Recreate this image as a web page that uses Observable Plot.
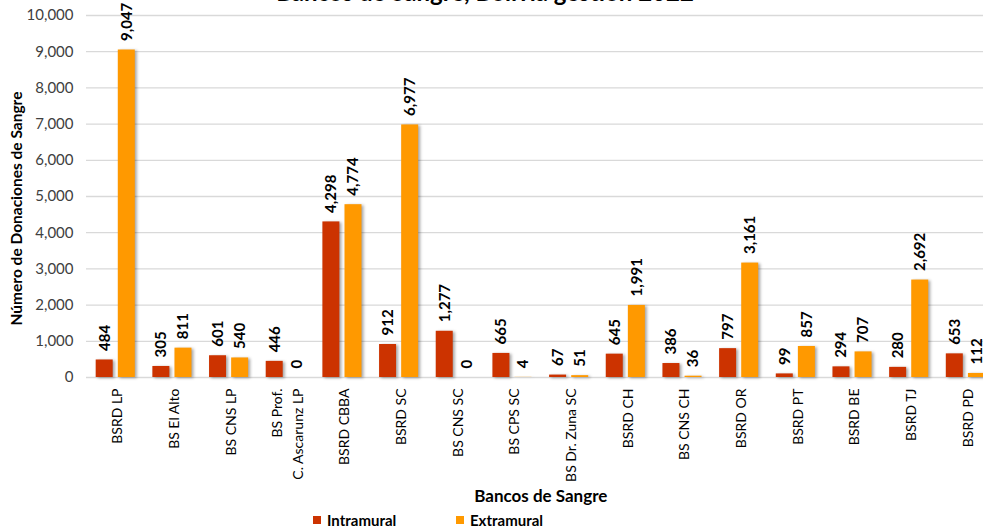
<!DOCTYPE html>
<html>
<head>
<meta charset="utf-8">
<script src="https://cdn.jsdelivr.net/npm/d3@7"></script>
<script src="https://cdn.jsdelivr.net/npm/@observablehq/plot@0.6"></script>
<style>
  html, body { margin: 0; padding: 0; background: #fff; overflow: hidden; width: 983px; height: 531px; }
  #wrap { position: relative; width: 983px; height: 531px; overflow: hidden; font-family: Lato, "Open Sans", sans-serif; }
  #title { position: absolute; top: -20px; left: 0; width: 970px; text-align: center; font-weight: bold; font-size: 24px; line-height: 24px; color: #000; white-space: nowrap; }
  #chart { position: absolute; top: 0; left: 0; width: 1000px; }
  #chart svg { max-width: none !important; }
  #legend { position: absolute; top: 511px; left: 0; width: 983px; height: 18px; font-size: 15px; font-weight: bold; color: #000; }
  .item { position: absolute; top: 0; display: flex; align-items: center; height: 18px; }
  .sw { width: 8px; height: 8px; margin-right: 6px; }
  g[aria-label="bar"] rect { filter: drop-shadow(2px 1px 1.5px rgba(0,0,0,0.35)); }
</style>
</head>
<body>
<div id="wrap">
  <div id="chart"></div>
  <div id="title">Bancos de Sangre, Bolivia gestión 2022</div>
  <div id="legend"></div>
</div>
<script>
const categories = ["BSRD LP", "BS El Alto", "BS CNS LP", "BS Prof.\nC. Ascarunz LP", "BSRD CBBA", "BSRD SC", "BS CNS SC", "BS CPS SC", "BS Dr. Zuna SC", "BSRD CH", "BS CNS CH", "BSRD OR", "BSRD PT", "BSRD BE", "BSRD TJ", "BSRD PD"];
const intramural = [484, 305, 601, 446, 4298, 912, 1277, 665, 67, 645, 386, 797, 99, 294, 280, 653];
const extramural = [9047, 811, 540, 0, 4774, 6977, 0, 4, 51, 1991, 36, 3161, 857, 707, 2692, 112];
const seriesNames = ["Intramural", "Extramural"];
const seriesColors = ["#cc3300", "#ff9900"];
const yTicks = [0, 1000, 2000, 3000, 4000, 5000, 6000, 7000, 8000, 9000, 10000];
const yTitle = "Número de Donaciones de Sangre";
const xTitle = "Bancos de Sangre";

const intraData = categories.map((c, i) => ({cat: c, value: intramural[i]}));
const extraData = categories.map((c, i) => ({cat: c, value: extramural[i]}));
const fmt = d3.format(",");

const W = 1000, H = 505;
const mL = 86, mR = 5.4;
const step = (W - mL - mR) / (16 - 0.31 + 2 * 0.171);
const bw = step * 0.69;
const barW = 17;
const inset = bw - barW;

const plot = Plot.plot({
  width: W,
  height: H,
  marginLeft: mL,
  marginRight: mR,
  marginTop: 15,
  marginBottom: H - 377,
  style: {fontFamily: "Lato, 'Open Sans', sans-serif", fontSize: "14px", color: "#404040", background: "transparent", overflow: "visible", maxWidth: "none"},
  x: {domain: categories, paddingInner: 0.31, paddingOuter: 0.171, round: false, label: null},
  y: {domain: [0, 10000], label: null},
  marks: [
    Plot.ruleY(yTicks, {stroke: "#d9d9d9", strokeWidth: 1.3}),
    Plot.axisY({ticks: yTicks, tickSize: 0, tickPadding: 13, tickFormat: fmt, fontSize: 15, label: null, fill: "#404040"}),
    Plot.axisX({tickSize: 0, tickPadding: 11, tickRotate: -90, fontSize: 14, label: null, lineHeight: 1.5, fill: "#000"}),
    Plot.barY(intraData, {x: "cat", y: "value", fill: seriesColors[0], insetRight: inset}),
    Plot.barY(extraData, {x: "cat", y: "value", fill: seriesColors[1], insetLeft: inset}),
    Plot.text(intraData, {x: "cat", y: "value", text: d => fmt(d.value), rotate: -90, textAnchor: "start", dy: -9, dx: -(bw / 2 - barW / 2), fontWeight: "bold", fontSize: 15, fill: "#000"}),
    Plot.text(extraData, {x: "cat", y: "value", text: d => fmt(d.value), rotate: -90, textAnchor: "start", dy: -9, dx: (bw / 2 - barW / 2), fontWeight: "bold", fontSize: 15, fill: "#000"}),
    Plot.text([yTitle], {frameAnchor: "left", textAnchor: "middle", dx: -69, dy: 12, rotate: -90, fontWeight: "bold", fontSize: 15.5, fill: "#000"}),
    Plot.text([xTitle], {frameAnchor: "bottom", dy: 124, fontWeight: "bold", fontSize: 17, fill: "#000"})
  ]
});
document.getElementById("chart").appendChild(plot);

const legend = document.getElementById("legend");
const legendX = [313, 456];
seriesNames.forEach((name, i) => {
  const item = document.createElement("div");
  item.className = "item";
  item.style.left = legendX[i] + "px";
  const sw = document.createElement("div");
  sw.className = "sw";
  sw.style.background = seriesColors[i];
  const label = document.createElement("span");
  label.textContent = name;
  item.appendChild(sw);
  item.appendChild(label);
  legend.appendChild(item);
});
</script>
</body>
</html>
